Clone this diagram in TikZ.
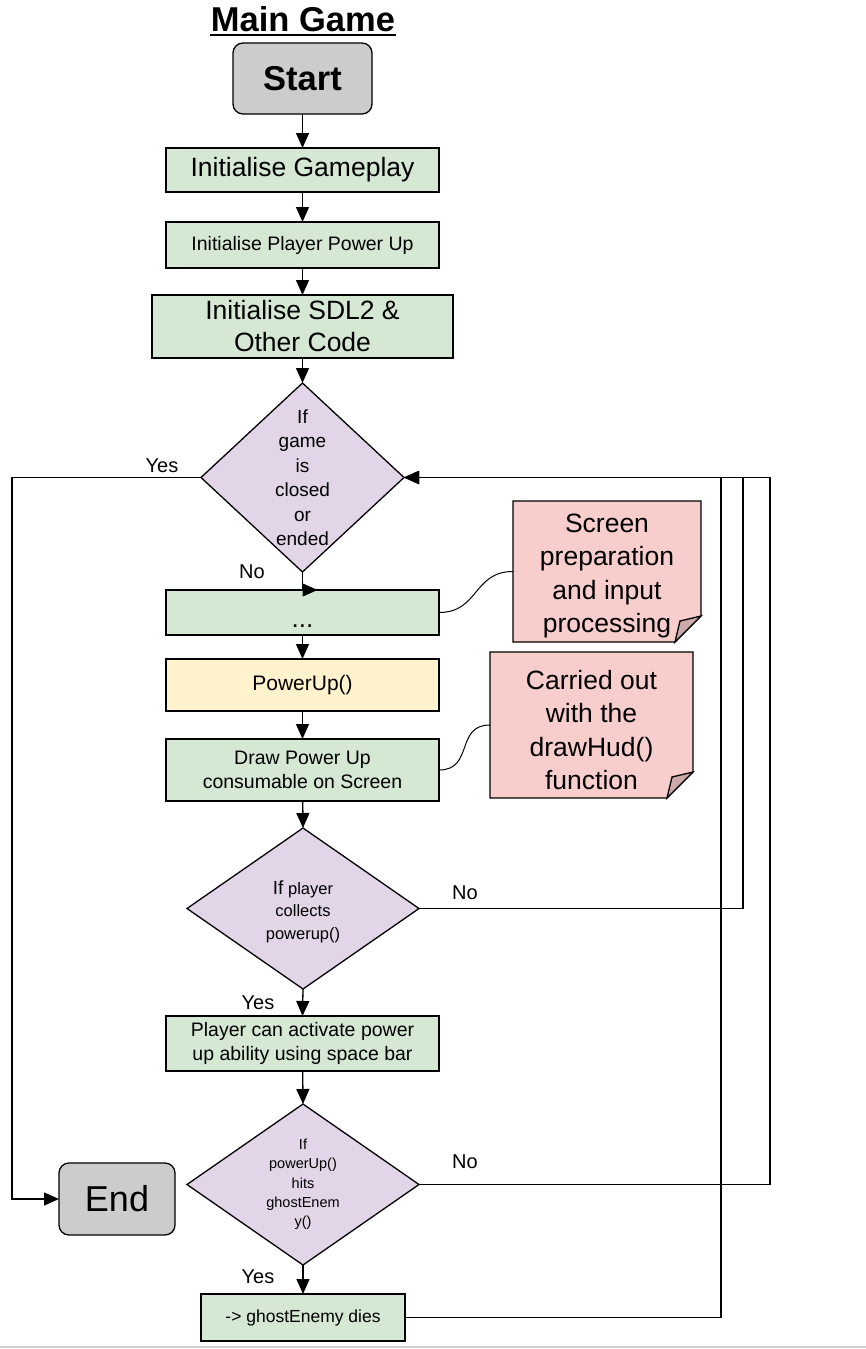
\documentclass[tikz,border=0pt]{standalone}
\usepackage{fontspec}
\setmainfont{Liberation Sans}
\usetikzlibrary{shapes.geometric,arrows.meta}
\definecolor{boxgreen}{HTML}{D5E8D4}
\definecolor{decpurple}{HTML}{E1D5E7}
\definecolor{funyellow}{HTML}{FFF2CC}
\definecolor{notepink}{HTML}{F8CECC}
\definecolor{notefold}{HTML}{CDA9A9}
\definecolor{termgray}{HTML}{CCCCCC}
\newcommand{\fsz}[2]{\fontsize{#1}{#2}\selectfont}
\begin{document}
\begin{tikzpicture}[x=1pt,y=-1pt,line width=1.3pt,
  flow/.style={-{Triangle[length=15pt,width=13pt]}},
  proc/.style={draw,fill=boxgreen,minimum width=273,inner sep=2pt,outer sep=0pt,align=center},
  dec/.style={draw,diamond,fill=decpurple,inner sep=0pt,outer sep=0pt},
  term/.style={draw,fill=termgray,rounded corners=10pt,outer sep=0pt},
  notebox/.style={inner sep=0pt,outer sep=0pt},
  notetext/.style={align=center,font=\fsz{26.5}{33.5}},
  lab/.style={font=\fsz{20}{24},inner sep=0pt}]
\useasboundingbox (0,0) rectangle (866,1349);
\draw[line width=2pt,black!18] (0,1347) -- (866,1347);
\node[font=\bfseries\fsz{34.5}{40},inner sep=0pt,anchor=base] (title) at (303,31) {Main Game};
\draw[line width=2.5pt] ([yshift=-4pt]title.base west) -- ([yshift=-4pt]title.base east);
\node[term,minimum width=139,minimum height=71,font=\bfseries\fsz{34.5}{40}] (start) at (302.5,78.5) {Start};
\node[proc,minimum height=44,font=\fsz{26.5}{32}] (ig) at (302.5,170) {Initialise Gameplay};
\node[proc,minimum height=46,font=\fsz{19.5}{24}] (ipp) at (302.5,245) {Initialise Player Power Up};
\node[proc,minimum width=301,minimum height=63,font=\fsz{26.5}{32}] (sdl) at (302.5,326.5) {Initialise SDL2 \&\\Other Code};
\node[dec,minimum width=203,minimum height=189] (d1) at (302.5,477.5) {};
\node[align=center,font=\fsz{19}{24.5}] (d1t) at (d1) {If\\game\\is\\closed\\or\\ended};
\node[proc,minimum height=45,font=\fsz{26}{30},text height=30pt,text depth=0pt] (dots) at (302.5,612.5) {...};
\node[proc,fill=funyellow,minimum height=52,font=\fsz{21}{24}] (pu) at (302.5,685) {PowerUp()};
\node[proc,minimum height=62,font=\fsz{19.5}{24}] (drw) at (302.5,770) {Draw Power Up\\consumable on Screen};
\node[dec,minimum width=232,minimum height=161] (d2) at (303,908.5) {};
\node[align=center,font=\fsz{16.5}{22.5}] (d2t) at (303,911.5) {{\fsz{19}{22.5}If} player\\collects\\powerup()};
\node[proc,minimum height=55,font=\fsz{19.5}{24}] (pcap) at (302.5,1043.5) {Player can activate power\\up ability using space bar};
\node[dec,minimum width=232,minimum height=161] (d3) at (303,1184.5) {};
\node[align=center,font=\fsz{14.5}{19.3}] (d3t) at (d3) {If\\powerUp()\\hits\\ghostEnem\\y()};
\node[proc,minimum width=204,minimum height=47,font=\fsz{17.5}{21}] (die) at (303,1317.5) {-> ghostEnemy dies};
\node[term,minimum width=116,minimum height=72,font=\fsz{36}{40}] (endn) at (117,1199) {End};
\node[notebox,minimum width=188,minimum height=141] (n1) at (607,571.5) {};
\node[notebox,minimum width=203,minimum height=146] (n2) at (591.5,725) {};
\foreach \n in {n1,n2} {
  \filldraw[fill=notepink] (\n.north west) -- (\n.north east) -- ([yshift=26pt]\n.south east)
    -- ([xshift=-26pt]\n.south east) -- (\n.south west) -- cycle;
  \filldraw[fill=notefold] ([yshift=26pt]\n.south east) -- ([xshift=-21pt,yshift=21pt]\n.south east)
    -- ([xshift=-26pt]\n.south east) -- cycle;
}
\node[notetext] (n1t) at ([yshift=-4.5pt]n1) {Screen\\preparation\\and input\\processing};
\node[notetext] (n2t) at ([yshift=-5pt]n2) {Carried out\\with the\\drawHud()\\function};
\coordinate (lft) at (12,1199);
\coordinate (r1) at (743,477.5);
\coordinate (r2) at (770,477.5);
\coordinate (r3) at (721,477.5);
\draw[flow] (start) -- (ig);
\draw[flow] (ig) -- (ipp);
\draw[flow] (ipp) -- (sdl);
\draw[flow] (sdl) -- (d1.north);
\draw[flow] (d1.west) -| (lft) -- (endn.west);
\draw[flow] (d1.south) -- (dots.north) -- ++(15,0);
\draw[flow] (dots) -- (pu);
\draw[flow] (pu) -- (drw);
\draw[flow] (drw) -- (d2.north);
\draw[flow] (d2.east) -| (r1) -- (d1.east);
\draw[flow] (d2.south) -- (pcap.north);
\draw[flow] (pcap) -- (d3.north);
\draw[flow] (d3.east) -| (r2) -- (d1.east);
\draw[flow] (d3.south) -- (die.north);
\draw[flow] (die.east) -| (r3) -- (d1.east);
\draw[line width=1pt] (dots.east) .. controls +(40,0) and +(-40,0) .. (n1.west);
\draw[line width=1pt] (drw.east) .. controls +(35,0) and +(-35,0) .. (n2.west);
\node[lab] (y1) at (162,466) {Yes};
\node[lab] (no1) at (252,572) {No};
\node[lab] (no2) at (465,893) {No};
\node[lab] (y2) at (258,1003) {Yes};
\node[lab] (no3) at (465,1162) {No};
\node[lab] (y3) at (258,1277) {Yes};
\end{tikzpicture}
\end{document}
